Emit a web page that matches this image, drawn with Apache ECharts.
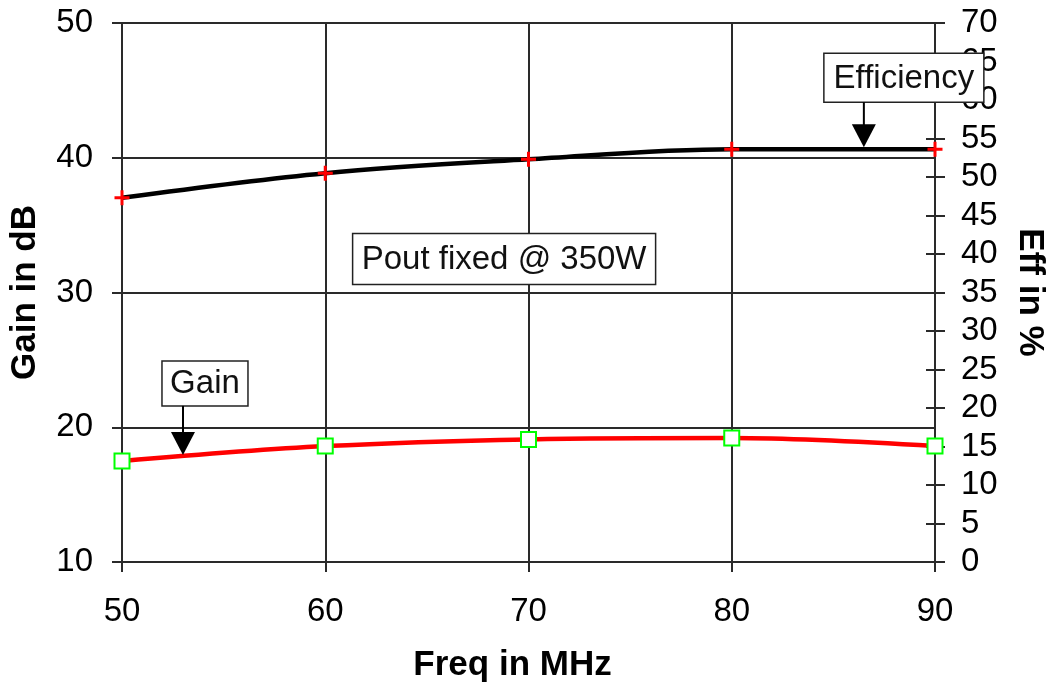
<!DOCTYPE html>
<html>
<head>
<meta charset="utf-8">
<script src="https://cdn.jsdelivr.net/npm/echarts@6/dist/echarts.min.js"></script>
<style>
html,body{margin:0;padding:0;background:#fff;}
#chart{width:1051px;height:687px;}
</style>
</head>
<body>
<div id="chart"></div>
<script>
var freqs = [50, 60, 70, 80, 90];
var gainDb = [17.5, 18.6, 19.1, 19.2, 18.6];
var effPct = [47.3, 50.5, 52.3, 53.6, 53.6];

var FONT = 'Liberation Sans, Arial, sans-serif';
var GRID = '#2a2a2a';

var chart = echarts.init(document.getElementById('chart'));
var plus = 'path://M4,0H6V4H10V6H6V10H4V6H0V4H4Z';

chart.setOption({
  animation: false,
  backgroundColor: '#fff',
  grid: {left: 122, right: 116, top: 23, bottom: 125, containLabel: false, outerBoundsMode: 'none'},
  xAxis: {
    type: 'value', min: 50, max: 90, interval: 10,
    name: 'Freq in MHz', nameLocation: 'middle', nameGap: 86,
    nameTextStyle: {fontFamily: FONT, fontWeight: 'bold', fontSize: 35, color: '#000', padding: [0, 32, 0, 0]},
    axisLine: {show: true, lineStyle: {color: GRID, width: 2}},
    axisTick: {show: true, length: 10, lineStyle: {color: GRID, width: 2}},
    axisLabel: {fontFamily: FONT, fontSize: 33, color: '#000', margin: 33},
    splitLine: {show: true, lineStyle: {color: GRID, width: 2}}
  },
  yAxis: [{
    type: 'value', min: 10, max: 50, interval: 10, position: 'left',
    name: 'Gain in dB', nameLocation: 'middle', nameGap: 79, nameRotate: 90,
    nameTextStyle: {fontFamily: FONT, fontWeight: 'bold', fontSize: 35, color: '#000'},
    axisLine: {show: true, lineStyle: {color: GRID, width: 2}},
    axisTick: {show: true, length: 10, lineStyle: {color: GRID, width: 2}},
    axisLabel: {fontFamily: FONT, fontSize: 33, color: '#000', margin: 29},
    splitLine: {show: true, lineStyle: {color: GRID, width: 2}}
  }, {
    type: 'value', min: 0, max: 70, interval: 5, position: 'right',
    name: 'Eff in %', nameLocation: 'middle', nameGap: 77, nameRotate: -90,
    nameTextStyle: {fontFamily: FONT, fontWeight: 'bold', fontSize: 35, color: '#000'},
    axisLine: {show: true, lineStyle: {color: GRID, width: 2}},
    axisTick: {show: true, length: 10, lineStyle: {color: GRID, width: 2}},
    axisLabel: {fontFamily: FONT, fontSize: 33, color: '#000', margin: 26},
    splitLine: {show: false}
  }, {
    type: 'value', min: 0, max: 70, interval: 5, position: 'right',
    axisLine: {show: false},
    axisTick: {show: true, inside: true, length: 9, lineStyle: {color: GRID, width: 2}},
    axisLabel: {show: false},
    splitLine: {show: false}
  }],
  series: [{
    name: 'Efficiency', type: 'line', yAxisIndex: 1,
    data: freqs.map(function (f, i) { return [f, effPct[i]]; }),
    smooth: 0.35,
    lineStyle: {color: '#000', width: 4.5},
    symbol: plus, symbolSize: 15,
    itemStyle: {color: '#ff0000'},
    z: 3
  }, {
    name: 'Gain', type: 'line', yAxisIndex: 0,
    data: freqs.map(function (f, i) { return [f, gainDb[i]]; }),
    smooth: 0.35,
    lineStyle: {color: '#ff0000', width: 4.5},
    symbol: 'rect', symbolSize: 15,
    itemStyle: {color: '#fff', borderColor: '#00ff00', borderWidth: 2},
    z: 3
  }]
});

function box(cx, top, w, h, text) {
  return [{
    type: 'rect', z: 100,
    shape: {x: cx - w / 2, y: top, width: w, height: h},
    style: {fill: '#fff', stroke: '#222', lineWidth: 1.5}
  }, {
    type: 'text', z: 101, x: cx, y: top + h / 2 + 1,
    style: {text: text, fill: '#111', font: '33px ' + FONT, align: 'center', verticalAlign: 'middle'}
  }];
}
function arrow(x, yTop, tipY) {
  return [{
    type: 'line', z: 102,
    shape: {x1: x, y1: yTop, x2: x, y2: tipY - 20},
    style: {stroke: '#000', lineWidth: 2}
  }, {
    type: 'polygon', z: 102,
    shape: {points: [[x - 12, tipY - 23], [x + 12, tipY - 23], [x, tipY]]},
    style: {fill: '#000'}
  }];
}

var effTip = chart.convertToPixel({xAxisIndex: 0, yAxisIndex: 1}, [86.5, 53.6]);
var gainTip = chart.convertToPixel({xAxisIndex: 0, yAxisIndex: 0}, [53, 17.8]);
var pout = chart.convertToPixel({xAxisIndex: 0, yAxisIndex: 0}, [68.8, 30]);

var g = [];
g = g.concat(box(effTip[0] + 40, effTip[1] - 96, 160, 49, 'Efficiency'));
g = g.concat(arrow(effTip[0], effTip[1] - 47, effTip[1] - 2));
g = g.concat(box(gainTip[0] + 22, gainTip[1] - 96, 86, 45, 'Gain'));
g = g.concat(arrow(gainTip[0], gainTip[1] - 51, gainTip[1] - 2));
g = g.concat(box(pout[0], pout[1] - 59, 303, 51, 'Pout fixed @ 350W'));
chart.setOption({graphic: g});
</script>
</body>
</html>
